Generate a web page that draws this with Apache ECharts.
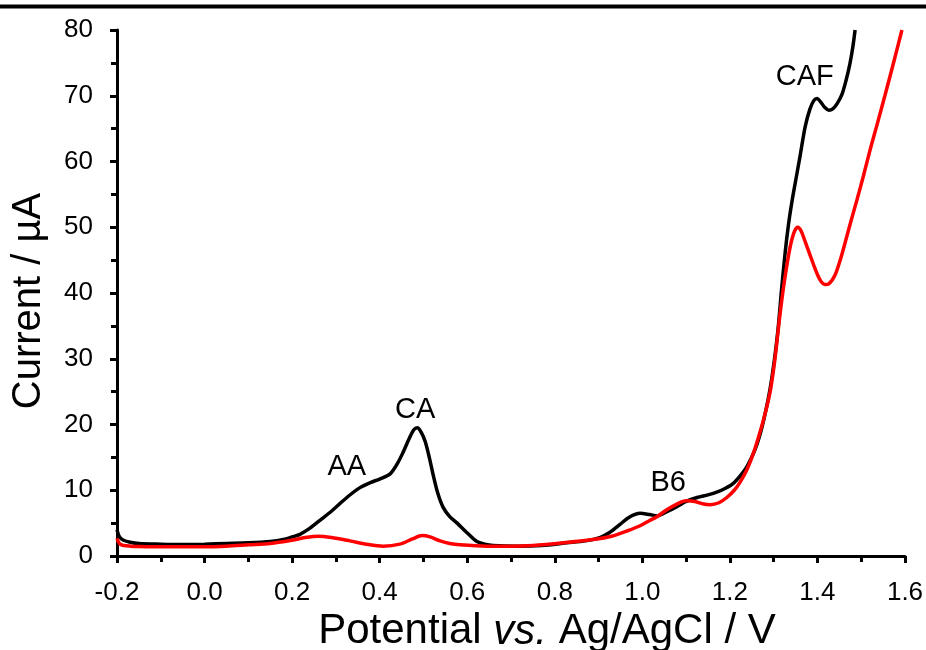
<!DOCTYPE html>
<html>
<head>
<meta charset="utf-8">
<script src="https://cdn.jsdelivr.net/npm/echarts@6/dist/echarts.min.js"></script>
<style>html,body{margin:0;padding:0;background:#fff}#c{width:926px;height:650px}</style>
</head>
<body>
<div id="c"></div>
<script>
// Black curve (sample) potential / V and current / µA
const blackX = [-0.200,-0.197,-0.193,-0.185,-0.170,-0.150,-0.100,-0.050,0.000,0.050,0.100,0.150,0.180,0.200,0.218,0.240,0.265,0.293,0.325,0.355,0.380,0.400,0.424,0.440,0.453,0.467,0.478,0.486,0.495,0.504,0.514,0.522,0.533,0.545,0.560,0.577,0.600,0.622,0.640,0.659,0.714,0.770,0.828,0.870,0.903,0.926,0.949,0.970,0.995,1.017,1.034,1.055,1.079,1.100,1.125,1.150,1.170,1.190,1.207,1.225,1.239,1.257,1.269,1.280,1.292,1.302,1.310,1.318,1.326,1.334,1.342,1.350,1.360,1.372,1.383,1.392,1.399,1.408,1.417,1.426,1.435,1.445,1.456,1.466,1.474,1.481,1.486];
const blackY = [4.0,3.3,2.8,2.4,2.1,1.9,1.8,1.75,1.8,1.9,2.0,2.2,2.5,2.9,3.3,4.2,5.5,7.0,8.9,10.4,11.2,11.7,12.5,14.0,15.7,17.8,19.2,19.5,18.8,17.4,14.8,12.4,9.5,7.4,6.0,5.0,3.5,2.2,1.8,1.6,1.5,1.6,2.0,2.3,2.8,3.6,4.8,5.9,6.5,6.3,6.1,6.7,7.5,8.3,8.9,9.3,9.7,10.3,11.0,12.3,13.6,16.1,18.5,21.5,25.5,30.0,34.5,40.5,46.0,50.5,54.0,57.0,60.7,65.3,68.0,69.3,69.6,69.0,68.2,67.8,68.0,68.8,70.2,72.5,74.8,77.5,80.0];
// Red curve
const redX = [-0.200,-0.197,-0.193,-0.185,-0.170,-0.150,-0.100,-0.050,0.000,0.050,0.100,0.150,0.200,0.230,0.260,0.290,0.332,0.370,0.408,0.446,0.475,0.497,0.515,0.538,0.560,0.583,0.645,0.700,0.750,0.820,0.887,0.930,0.965,0.995,1.017,1.034,1.055,1.079,1.100,1.120,1.140,1.155,1.175,1.193,1.210,1.223,1.238,1.253,1.265,1.278,1.292,1.303,1.314,1.325,1.337,1.347,1.355,1.363,1.372,1.383,1.394,1.406,1.417,1.426,1.440,1.452,1.463,1.476,1.490,1.505,1.520,1.537,1.554,1.573,1.593];
const redY = [2.7,2.2,1.8,1.6,1.5,1.45,1.4,1.4,1.4,1.5,1.7,1.9,2.4,2.8,3.0,2.8,2.3,1.8,1.5,1.8,2.6,3.1,2.9,2.3,1.9,1.7,1.5,1.5,1.6,2.0,2.5,3.0,3.8,4.6,5.4,6.0,7.0,7.9,8.4,8.3,7.9,7.8,8.1,8.9,10.0,11.2,13.0,15.5,18.0,21.0,25.0,30.0,36.5,42.0,46.8,49.3,50.0,49.4,47.8,45.8,43.8,42.0,41.3,41.4,42.7,45.0,47.6,50.8,54.1,57.8,61.7,65.8,70.0,74.8,80.0];
// Peak annotations
const annLabels = ['AA','CA','B6','CAF'];
const annX = [0.325,0.481,1.059,1.371];
const annY = [13.5,22.2,11.1,72.9];

const FONT = '"Liberation Sans", Arial, Helvetica, sans-serif';
const pairs = (xs, ys) => xs.map((x, i) => [x, ys[i]]);

const chart = echarts.init(document.getElementById('c'), null, {renderer: 'canvas'});
const axisCommon = {
  axisLine: {show: true, onZero: false, lineStyle: {color: '#000', width: 3}},
  axisTick: {show: true, inside: false, length: 7, lineStyle: {color: '#000', width: 3}},
  minorTick: {show: true, splitNumber: 2, length: 6, lineStyle: {color: '#000', width: 3}},
  splitLine: {show: false},
};
chart.setOption({
  animation: false,
  backgroundColor: '#fff',
  textStyle: {fontFamily: FONT},
  grid: {left: 117, right: 21, top: 30, bottom: 94, containLabel: false, outerBoundsMode: 'none'},
  graphic: [{type: 'rect', shape: {x: 0, y: 4.5, width: 926, height: 4}, style: {fill: '#000'}}],
  xAxis: Object.assign({
    type: 'value', min: -0.2, max: 1.6, interval: 0.2,
    axisLabel: {fontSize: 26, color: '#000', fontFamily: FONT, margin: 24, formatter: v => v.toFixed(1)},
    name: 'Potential {i|vs.} Ag/AgCl / V',
    nameLocation: 'middle', nameGap: 51,
    nameTextStyle: {fontSize: 42, color: '#000', fontFamily: FONT, padding: [0, 0, 0, 72],
      rich: {i: {fontSize: 42, fontStyle: 'italic', color: '#000', fontFamily: FONT}}}
  }, axisCommon),
  yAxis: Object.assign({
    type: 'value', min: 0, max: 80, interval: 10,
    axisLabel: {fontSize: 26, color: '#000', fontFamily: FONT, margin: 24},
    name: 'Current / µA',
    nameLocation: 'middle', nameGap: 68,
    nameTextStyle: {fontSize: 40, color: '#000', fontFamily: FONT, padding: [0, 16, 0, 0]}
  }, axisCommon),
  series: [
    {
      type: 'line', name: 'black', data: pairs(blackX, blackY), smooth: 0.3,
      showSymbol: false, symbol: 'none', clip: true,
      lineStyle: {color: '#000', width: 3.5}, z: 2,
      markPoint: {
        symbol: 'circle', symbolSize: 0,
        label: {show: true, position: 'inside', formatter: '{b}', fontSize: 29, color: '#000', fontFamily: FONT},
        data: annLabels.map((n, i) => ({name: n, coord: [annX[i], annY[i]]}))
      }
    },
    {
      type: 'line', name: 'red', data: pairs(redX, redY), smooth: 0.3,
      showSymbol: false, symbol: 'none', clip: true,
      lineStyle: {color: '#ff0000', width: 3.5}, z: 3
    }
  ]
});
</script>
</body>
</html>
